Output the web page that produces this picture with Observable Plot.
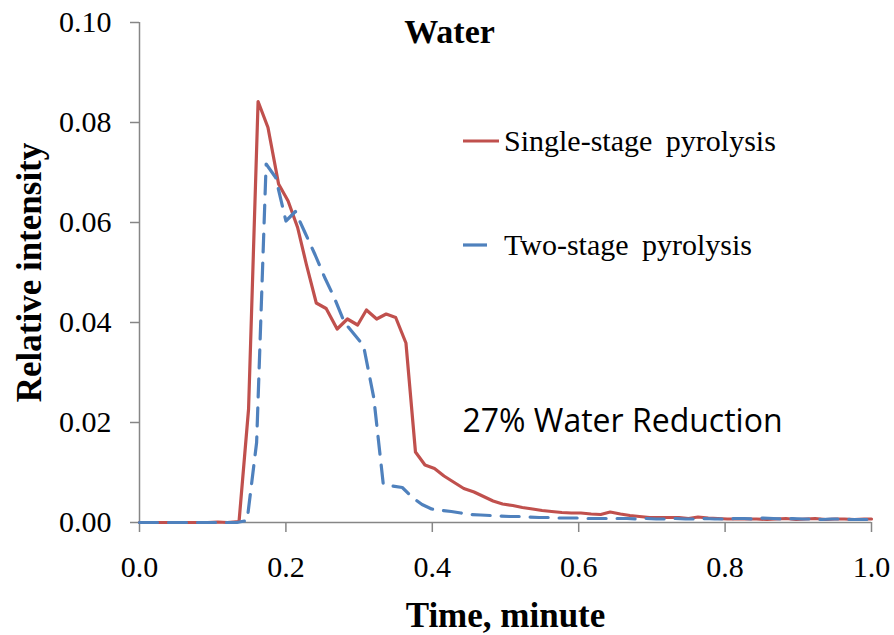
<!DOCTYPE html>
<html>
<head>
<meta charset="utf-8">
<script src="https://cdn.jsdelivr.net/npm/d3@7"></script>
<script src="https://cdn.jsdelivr.net/npm/@observablehq/plot@0.6"></script>
<style>
  body { margin: 0; background: #fff; }
  #chart { position: relative; width: 894px; height: 635px; }
  .legend { position: absolute; left: 463px; font-family: "Liberation Serif", "Times New Roman", serif; font-size: 30px; color: #000; display: flex; align-items: center; word-spacing: 6px; }
  .legend svg { margin-right: 5px; }
</style>
</head>
<body>
<div id="chart"></div>
<script>
// tiempos (minutos) y valores
const singleTime = [0, 0.013, 0.027, 0.040, 0.053, 0.067, 0.080, 0.093, 0.107, 0.120, 0.136, 0.149, 0.162, 0.1755, 0.190, 0.203, 0.216, 0.228, 0.2415, 0.255, 0.270, 0.284, 0.298, 0.310, 0.324, 0.337, 0.350, 0.364, 0.377, 0.390, 0.403, 0.416, 0.430, 0.443, 0.457, 0.470, 0.483, 0.496, 0.510, 0.523, 0.537, 0.550, 0.563, 0.577, 0.590, 0.603, 0.617, 0.630, 0.643, 0.657, 0.670, 0.683, 0.697, 0.710, 0.723, 0.737, 0.750, 0.763, 0.777, 0.790, 0.803, 0.817, 0.830, 0.843, 0.857, 0.870, 0.883, 0.897, 0.910, 0.923, 0.937, 0.950, 0.963, 0.977, 0.990, 1.000]
const singleValue = [0, 0, 0, 0, 0, 0, 0, 0, 0.0001, 0, 0.0002, 0.0227, 0.0842, 0.0790, 0.0677, 0.0643, 0.0590, 0.0516, 0.0439, 0.0428, 0.0387, 0.0407, 0.0395, 0.0425, 0.0407, 0.0417, 0.0410, 0.0359, 0.0141, 0.0115, 0.0108, 0.0093, 0.0080, 0.0068, 0.0061, 0.0052, 0.0043, 0.0037, 0.0034, 0.0030, 0.0027, 0.0024, 0.0022, 0.0020, 0.0019, 0.0019, 0.0017, 0.0016, 0.0021, 0.0017, 0.0014, 0.0012, 0.0010, 0.0010, 0.0010, 0.0010, 0.0008, 0.0011, 0.0009, 0.0008, 0.0007, 0.0007, 0.0007, 0.0007, 0.0006, 0.0007, 0.0008, 0.0006, 0.0007, 0.0008, 0.0006, 0.0007, 0.0007, 0.0006, 0.0007, 0.0007]

const twoTime = [0, 0.013, 0.027, 0.040, 0.053, 0.067, 0.080, 0.093, 0.107, 0.120, 0.133, 0.147, 0.160, 0.173, 0.186, 0.200, 0.213, 0.226, 0.240, 0.253, 0.266, 0.280, 0.293, 0.306, 0.320, 0.333, 0.346, 0.359, 0.373, 0.386, 0.399, 0.413, 0.426, 0.439, 0.452, 0.466, 0.479, 0.492, 0.506, 0.519, 0.532, 0.546, 0.559, 0.572, 0.586, 0.599, 0.612, 0.626, 0.639, 0.652, 0.666, 0.679, 0.692, 0.706, 0.719, 0.732, 0.746, 0.759, 0.772, 0.786, 0.799, 0.812, 0.826, 0.839, 0.852, 0.866, 0.879, 0.892, 0.906, 0.919, 0.932, 0.946, 0.959, 0.972, 0.986, 1.000]
const twoValue = [0, 0, 0, 0, 0, 0, 0, 0, 0, 0, 0, 0.0004, 0.0160, 0.0717, 0.0690, 0.0603, 0.0622, 0.0580, 0.0535, 0.0490, 0.0450, 0.0400, 0.0377, 0.0354, 0.0250, 0.0077, 0.0073, 0.0070, 0.0050, 0.0036, 0.0027, 0.0024, 0.0022, 0.0019, 0.0016, 0.0015, 0.0014, 0.0013, 0.0012, 0.0012, 0.0011, 0.0010, 0.0010, 0.0009, 0.0009, 0.0009, 0.0008, 0.0008, 0.0008, 0.0008, 0.0008, 0.0007, 0.0008, 0.0007, 0.0007, 0.0008, 0.0007, 0.0007, 0.0008, 0.0007, 0.0007, 0.0008, 0.0008, 0.0007, 0.0009, 0.0008, 0.0007, 0.0008, 0.0007, 0.0007, 0.0006, 0.0007, 0.0007, 0.0006, 0.0006, 0.0006]

const xTicks = [0, 0.2, 0.4, 0.6, 0.8, 1.0]
const yTicks = [0, 0.02, 0.04, 0.06, 0.08, 0.10]
const seriesNames = ["Single-stage pyrolysis", "Two-stage pyrolysis"]
const colors = ["#C0504D", "#4F81BD"]

const single = singleTime.map((t, i) => ({t, v: singleValue[i]}))
const two = twoTime.map((t, i) => ({t, v: twoValue[i]}))

const serif = '"Liberation Serif", "Times New Roman", serif'
const grey = "#868686"

let chart = Plot.plot({
  width: 894,
  height: 635,
  marginLeft: 139,
  marginRight: 23,
  marginTop: 22,
  marginBottom: 113,
  style: {background: "#fff", fontFamily: serif},
  x: {domain: [0, 1]},
  y: {domain: [0, 0.1]},
  marks: [
    Plot.axisX({ticks: xTicks, tickFormat: d3.format(".1f"), tickSize: 10, tickPadding: 23, fontSize: 30, fontFamily: serif, stroke: grey, strokeWidth: 1.5, color: "#000", label: null}),
    Plot.axisY({ticks: yTicks, tickFormat: d3.format(".2f"), tickSize: 9, tickPadding: 19, fontSize: 30, fontFamily: serif, stroke: grey, strokeWidth: 1.5, color: "#000", label: null}),
    Plot.ruleX([0], {stroke: grey, strokeWidth: 1.5}),
    Plot.ruleY([0], {stroke: grey, strokeWidth: 1.5}),
    Plot.line(single, {x: "t", y: "v", stroke: colors[0], strokeWidth: 3.2}),
    Plot.line(two, {x: "t", y: "v", stroke: colors[1], strokeWidth: 3.2, strokeDasharray: "18,11", strokeLinecap: "round"}),
    // titulo y etiquetas
    Plot.text(["Water"], {frameAnchor: "top-left", dx: 310, dy: 10, fontSize: 34, fontWeight: "bold", fontFamily: serif, textAnchor: "middle", lineAnchor: "middle"}),
    Plot.text(["27% Water Reduction"], {frameAnchor: "top-left", dx: 483, dy: 399, fontSize: 32, fontFamily: '"Open Sans", sans-serif', textAnchor: "middle", lineAnchor: "middle"}),
    Plot.text(["Time, minute"], {frameAnchor: "bottom", dy: 93, fontSize: 35, fontWeight: "bold", fontFamily: serif, textAnchor: "middle", lineAnchor: "middle", wordSpacing: 5}),
    Plot.text(["Relative intensity"], {frameAnchor: "left", dx: -110, rotate: -90, fontSize: 35, fontWeight: "bold", fontFamily: serif, textAnchor: "middle", lineAnchor: "middle"})
  ]
})

d3.select('#chart').append(() => chart)

// leyenda dentro del área
const legendTop = [141, 245]
seriesNames.forEach((name, i) => {
  const item = d3.select('#chart').append('div').attr('class', 'legend')
    .style('top', (legendTop[i] - 20) + 'px').style('height', '40px')
  const sw = item.append('svg').attr('width', 36).attr('height', 8)
  sw.append('line').attr('x1', 0).attr('x2', i ? 24 : 36).attr('y1', 4).attr('y2', 4)
    .attr('stroke', colors[i]).attr('stroke-width', 3.2)
  item.append('span').text(name)
})
</script>
</body>
</html>
